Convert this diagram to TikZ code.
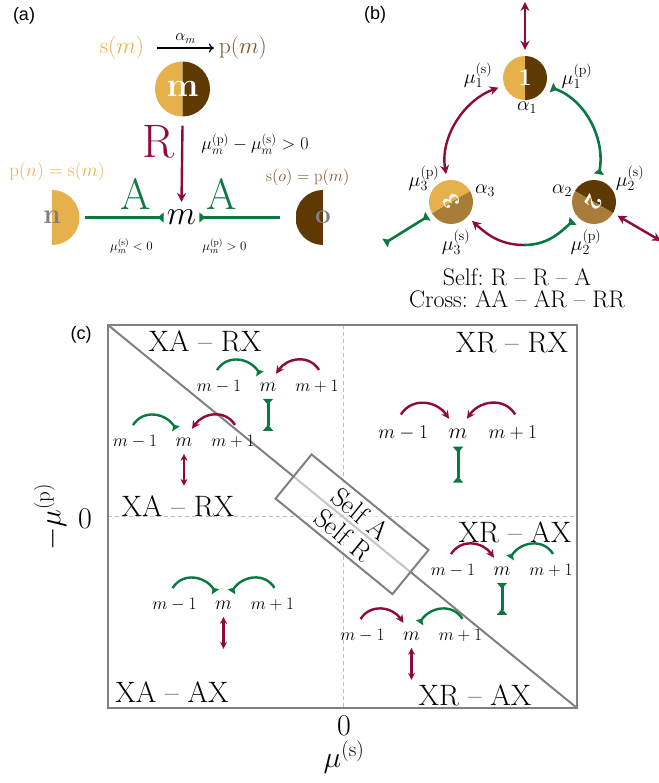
\RequirePackage{fix-cm}
\documentclass[tikz,border=0pt]{standalone}
\usepackage{fontspec}
\usepackage{graphicx}
\newfontfamily\sflab{Liberation Sans}
\usetikzlibrary{arrows.meta,calc}
\definecolor{gold}{RGB}{230,176,77}
\definecolor{dkb}{RGB}{94,58,2}
\definecolor{midb}{RGB}{168,125,58}
\definecolor{crim}{RGB}{143,10,60}
\definecolor{grn}{RGB}{10,120,65}
\definecolor{txtb}{RGB}{125,85,35}
\definecolor{framec}{RGB}{128,128,128}
\definecolor{dashc}{RGB}{190,190,190}
\tikzset{
  fs/.style={font=\fontsize{#1}{#1}\selectfont},
  lbl/.style={font={\sflab\fontsize{18}{20}\selectfont}},
  crn/.style={font=\fontsize{29.5}{29.5}\selectfont},
  bic/.style n args={3}{circle, inner sep=0pt, text=white,
    path picture={
      \fill[#1] (path picture bounding box.center) -- ++(#3+90:40) arc[start angle=#3+90, end angle=#3+270, radius=40] -- cycle;
      \fill[#2] (path picture bounding box.center) -- ++(#3-90:40) arc[start angle=#3-90, end angle=#3+90, radius=40] -- cycle;}},
  halfn/.style={circle, inner sep=0pt, minimum size=55pt, text=gray,
    font=\bfseries\fontsize{28}{28}\selectfont,
    path picture={\fill[gold] (path picture bounding box.south) rectangle (path picture bounding box.north east);}},
  halfo/.style={circle, inner sep=0pt, minimum size=55pt, text=gray,
    font=\bfseries\fontsize{28}{28}\selectfont,
    path picture={\fill[dkb] (path picture bounding box.south west) rectangle (path picture bounding box.north);}},
  rep/.style={draw=crim, line width=2.4pt, arrows={-Stealth[length=9pt,width=9pt]}},
  repd/.style={draw=crim, line width=2.4pt, arrows={Stealth[length=9pt,width=9pt]-Stealth[length=9pt,width=9pt]}},
  att/.style={draw=grn, line width=2.6pt, arrows={-Triangle[reversed,length=6pt,width=10pt]}},
  attd/.style={draw=grn, line width=2.6pt, arrows={Triangle[reversed,length=6pt,width=10pt]-Triangle[reversed,length=6pt,width=10pt]}},
  mrep/.style={draw=crim, line width=2.4pt, arrows={-Stealth[length=8pt,width=8pt]}},
  matt/.style={draw=grn, line width=2.4pt, arrows={-Triangle[reversed,length=5pt,width=9pt]}},
  mbar/.style={draw=grn, line width=3pt, arrows={Triangle[reversed,length=6pt,width=10pt]-Triangle[reversed,length=6pt,width=10pt]}},
  mdbl/.style={draw=crim, line width=2.2pt, arrows={Stealth[length=7pt,width=7pt]-Stealth[length=7pt,width=7pt]}},
  framel/.style={draw=framec, line width=2pt},
  dashl/.style={draw=dashc, line width=1pt, dash pattern=on 4pt off 3pt},
  blab/.style={font=\fontsize{20}{20}\selectfont, inner sep=1pt},
}
\newcommand{\trio}[7]{%
  \pgfmathsetmacro\fsm{19.5*#4}%
  \pgfmathsetmacro\fsl{17.5*#4}%
  \node[inner sep=0pt, anchor=base, font=\fontsize{\fsm}{\fsm}\selectfont] (#1m) at (#2,#3) {$m$};
  \node[inner sep=0pt, anchor=base, font=\fontsize{\fsl}{\fsl}\selectfont] (#1l) at ({#2-49*#4},#3) {$m-1$};
  \node[inner sep=0pt, anchor=base, font=\fontsize{\fsl}{\fsl}\selectfont] (#1r) at ({#2+49*#4},#3) {$m+1$};
  \draw[#5] ([shift={(-2*#4,16*#4)}]#1l.center) .. controls ([shift={(8*#4,32*#4)}]#1l.center) and ([shift={(-19*#4,29*#4)}]#1m.center) .. ([shift={(-8*#4,13*#4)}]#1m.center);
  \draw[#6] ([shift={(2*#4,16*#4)}]#1r.center) .. controls ([shift={(-8*#4,32*#4)}]#1r.center) and ([shift={(19*#4,29*#4)}]#1m.center) .. ([shift={(8*#4,13*#4)}]#1m.center);
  \draw[#7] ([shift={(0,-12*#4)}]#1m.center) -- ([shift={(0,-44*#4)}]#1m.center);
}
\begin{document}
\begin{tikzpicture}[x=1pt,y=1pt]
\useasboundingbox (0,0) rectangle (658,-783);

% ---------------- (a)
\node[lbl] (la) at (24,-16) {(a)};
\node[fs=23, text=gold, inner sep=0pt] (sm) at (122,-48) {$\mathrm{s}(m)$};
\node[fs=23, text=txtb, inner sep=0pt] (pm) at (243,-48) {$\mathrm{p}(m)$};
\draw[line width=1.2pt, arrows={-To[length=5pt,width=9pt]}] ([xshift=13pt]sm.east) -- node[above=4pt, fs=16, inner sep=0pt] (am) {$\alpha_m$} ([xshift=-5pt]pm.west);
\node[bic={gold}{dkb}{0}, minimum size=55pt, font=\bfseries\fontsize{34}{34}\selectfont] (mc) at (182.5,-89) {m};
\node[fs=47, text=crim, inner sep=0pt] (R) at (158,-142) {R};
\node[fs=34, inner xsep=3pt, inner ysep=8pt] (mm) at (181.5,-217.5) {$m$};
\draw[rep] ([yshift=-9pt]mc.south) -- (mm.north);
\node[fs=18, inner sep=0pt] (mu) at (255,-144) {$\mu_m^{(\mathrm{p})} - \mu_m^{(\mathrm{s})} > 0$};
\node[fs=19, text=gold, inner sep=0pt] (pn) at (57,-172) {$\mathrm{p}(n) = \mathrm{s}(m)$};
\node[fs=16.5, text=txtb, anchor=west, inner sep=0pt] (so) at (266,-177) {$\mathrm{s}(o) = \mathrm{p}(m)$};
\node[halfn] (nn) at (52,-217.5) {n};
\node[halfo] (on) at (323,-217.5) {o};
\draw[att] ([xshift=5.5pt]nn.east) -- (mm.west);
\draw[att] ([xshift=-15pt]on.west) -- (mm.east);
\node[fs=44, text=grn, inner sep=0pt] (A1) at (136,-194) {A};
\node[fs=44, text=grn, inner sep=0pt] (A2) at (221.5,-194) {A};
\node[fs=13, inner sep=0pt] (ls) at (131.5,-246) {$\mu_m^{(\mathrm{s})} < 0$};
\node[fs=13, inner sep=0pt] (lp) at (224.5,-246) {$\mu_m^{(\mathrm{p})} > 0$};

% ---------------- (b)
\node[lbl] (lb) at (375,-15) {(b)};
\node[bic={gold}{dkb}{0}, minimum size=44pt, font=\bfseries\fontsize{24}{24}\selectfont] (n1) at (525,-78) {1};
\node[bic={dkb}{midb}{-120}, minimum size=44pt, font=\bfseries\fontsize{24}{24}\selectfont] (n2) at (594,-202) {\rotatebox[origin=c]{-120}{2}};
\node[bic={midb}{gold}{120}, minimum size=44pt, font=\bfseries\fontsize{24}{24}\selectfont] (n3) at (451,-202) {\rotatebox[origin=c]{120}{3}};
\node[blab] (m1s) at (478,-75) {$\mu_1^{(\mathrm{s})}$};
\node[blab] (m1p) at (577,-76) {$\mu_1^{(\mathrm{p})}$};
\node[blab] (a1) at (527,-108) {$\alpha_1$};
\node[blab] (m3p) at (424,-178) {$\mu_3^{(\mathrm{p})}$};
\node[blab] (a3) at (485,-191) {$\alpha_3$};
\node[blab] (m3s) at (456,-242) {$\mu_3^{(\mathrm{s})}$};
\node[blab] (a2) at (562,-191) {$\alpha_2$};
\node[blab] (m2s) at (630,-178) {$\mu_2^{(\mathrm{s})}$};
\node[blab] (m2p) at (586,-242) {$\mu_2^{(\mathrm{p})}$};
\coordinate (t1) at (525,-2);
\draw[repd] (t1) -- ([yshift=6pt]n1.north);
\draw[repd, shorten <=6pt, shorten >=6pt] (n1) to[out=200,in=100] (n3);
\draw[attd, shorten <=6pt, shorten >=6pt] (n1) to[out=-20,in=80] (n2);
\coordinate (b0) at (524,-245);
\draw[rep, shorten >=6pt] (b0) to[out=180,in=-42] (n3);
\draw[att, shorten >=6pt] (b0) to[out=0,in=222] (n2);
\coordinate (g3) at (385,-243);
\draw[attd, shorten >=5pt] (g3) -- (n3);
\coordinate (c2) at (661,-241);
\draw[repd, shorten <=5pt] (n2) -- (c2);
\node[fs=24] (self) at (517,-277) {Self:\ R -- R -- A};
\node[fs=24] (cross) at (517,-299) {Cross:\ AA -- AR -- RR};

% ---------------- (c)
\node[lbl] (lc) at (81,-335) {(c)};
\coordinate (TL) at (108,-325);
\coordinate (BR) at (577,-708);
\draw[dashl] (343,-325) -- (343,-708);
\draw[dashl] (108,-516.5) -- (577,-516.5);
\draw[framel] (TL) -- (BR);
\draw[framel] (TL) rectangle (BR);
\node[draw=framec, line width=2pt, fill=white, fill opacity=0.55, text opacity=1, rotate=-39.24,
      minimum width=151pt, minimum height=57pt, inner sep=0pt, align=center,
      font=\fontsize{27}{27}\selectfont] (selfbox) at ($(TL)!0.5203!(BR)$) {Self A\\Self R};
\node[crn] (q1) at (205,-341) {XA -- RX};
\node[crn] (q2) at (512,-343) {XR -- RX};
\node[crn] (q3) at (178,-506) {XA -- RX};
\node[crn] (q4) at (515,-532) {XR -- AX};
\node[crn] (q5) at (172,-692) {XA -- AX};
\node[crn] (q6) at (475,-695) {XR -- AX};
\node[fs=30] (z1) at (85,-519) {$0$};
\node[fs=30, rotate=90] (ylab) at (50,-517) {$-\mu^{(\mathrm{p})}$};
\node[fs=30] (z2) at (344,-726) {$0$};
\node[fs=30] (xlab) at (344,-757) {$\mu^{(\mathrm{s})}$};

\trio{ga}{268}{-391}{1}{matt}{mrep}{mbar}
\trio{gb}{184}{-446}{1}{matt}{mrep}{mdbl}
\trio{gc}{458}{-438}{1.12}{mrep}{mrep}{mbar}
\trio{gd}{223.5}{-609}{1}{matt}{matt}{mdbl}
\trio{ge}{502}{-575}{1}{mrep}{matt}{mbar}
\trio{gf}{411.5}{-640}{1}{mrep}{matt}{mdbl}
\end{tikzpicture}
\end{document}
